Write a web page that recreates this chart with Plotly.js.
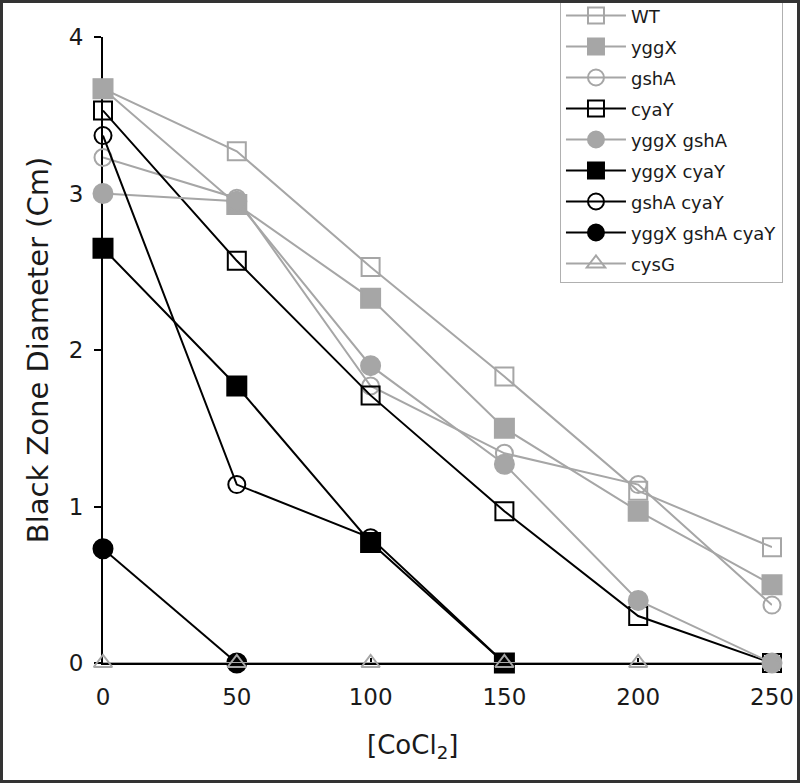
<!DOCTYPE html>
<html>
<head>
<meta charset="utf-8">
<script src="https://cdn.plot.ly/plotly-3.0.1.min.js"></script>
<style>
html,body{margin:0;padding:0;background:#fff;}
#wrap{width:800px;height:783px;box-sizing:border-box;border:3px solid #333;overflow:hidden;}
#chart{width:794px;height:777px;}
</style>
</head>
<body>
<div id="wrap"><div id="chart"></div></div>
<script>
const conc = [0, 50, 100, 150, 200, 250];
const tickVals = [0, 50, 100, 150, 200, 250];
const yTicks = [0, 1, 2, 3, 4];

const WT          = [3.67, 3.27, 2.53, 1.83, 1.10, 0.74];
const yggX        = [3.67, 2.93, 2.33, 1.50, 0.97, 0.50];
const gshA        = [3.23, 2.97, 1.77, 1.34, 1.14, 0.37];
const cyaY        = [3.53, 2.57, 1.71, 0.97, 0.30, 0.00];
const yggX_gshA   = [3.00, 2.95, 1.90, 1.27, 0.40, 0.00];
const yggX_cyaY   = [2.65, 1.77, 0.77, 0.00, null, null];
const gshA_cyaY   = [3.37, 1.14, 0.80, 0.00, null, null];
const yggX_gshA_cyaY = [0.73, 0.00, null, null, null, null];
const cysG        = [0, 0, 0, 0, 0, 0];

const GRAY = '#a6a6a6';
const BLACK = '#000000';

let gi = 0;
function tr(name, y, color, symbol, size) {
  gi += 1;
  return {
    x: conc, y: y, name: name, type: 'scatter', mode: 'lines+markers',
    cliponaxis: false, legendgroup: 'g' + gi,
    line: {color: color, width: 2},
    marker: {symbol: symbol, size: size, color: color,
             line: {color: color, width: 2}}
  };
}

const traces = [
  tr('WT', WT, GRAY, 'square-open', 18),
  tr('yggX', yggX, GRAY, 'square', 19),
  tr('gshA', gshA, GRAY, 'circle-open', 17),
  tr('cyaY', cyaY, BLACK, 'square-open', 18),
  tr('yggX gshA', yggX_gshA, GRAY, 'circle', 19),
  tr('yggX cyaY', yggX_cyaY, BLACK, 'square', 19),
  tr('gshA cyaY', gshA_cyaY, BLACK, 'circle-open', 17),
  tr('yggX gshA cyaY', yggX_gshA_cyaY, BLACK, 'circle', 19),
  tr('cysG', cysG, GRAY, 'triangle-up-open', 16)
];

const font = 'DejaVu Sans, Verdana, sans-serif';

const layout = {
  width: 794, height: 777,
  margin: {l: 100, r: 25, t: 34, b: 117, autoexpand: false},
  paper_bgcolor: '#ffffff', plot_bgcolor: '#ffffff',
  font: {family: font, color: '#1a1a1a'},
  showlegend: true,
  legend: {
    x: 1.0164, xanchor: 'right', y: 1.065, yanchor: 'top',
    bgcolor: '#ffffff', bordercolor: '#b0b0b0', borderwidth: 1,
    font: {family: font, size: 18, color: '#1a1a1a'},
    tracegroupgap: 4.6, itemwidth: 60
  },
  xaxis: {
    range: [0, 250], tickvals: tickVals, ticktext: tickVals.map(String),
    showline: true, linecolor: '#000', linewidth: 2, layer: 'below traces',
    ticks: 'inside', ticklen: 5, tickwidth: 2, tickcolor: '#000',
    ticklabelstandoff: 12,
    showgrid: false, zeroline: false,
    tickfont: {family: font, size: 23, color: '#1a1a1a'},
    title: {text: '[CoCl<sub>2</sub>]&nbsp;&nbsp;&nbsp;&nbsp;&nbsp;&nbsp;', font: {family: font, size: 26, color: '#1a1a1a'}, standoff: 27}
  },
  yaxis: {
    range: [0, 4], tickvals: yTicks, ticktext: yTicks.map(String),
    showline: true, linecolor: '#000', linewidth: 2, layer: 'below traces',
    ticks: 'outside', ticklen: 7, tickwidth: 2, tickcolor: '#000',
    ticklabelstandoff: 6,
    showgrid: false, zeroline: false,
    tickfont: {family: font, size: 23, color: '#1a1a1a'},
    title: {text: 'Black Zone Diameter (Cm)', font: {family: font, size: 29, color: '#1a1a1a'}, standoff: 12}
  }
};

Plotly.newPlot('chart', traces, layout, {displayModeBar: false, staticPlot: true});
</script>
</body>
</html>
